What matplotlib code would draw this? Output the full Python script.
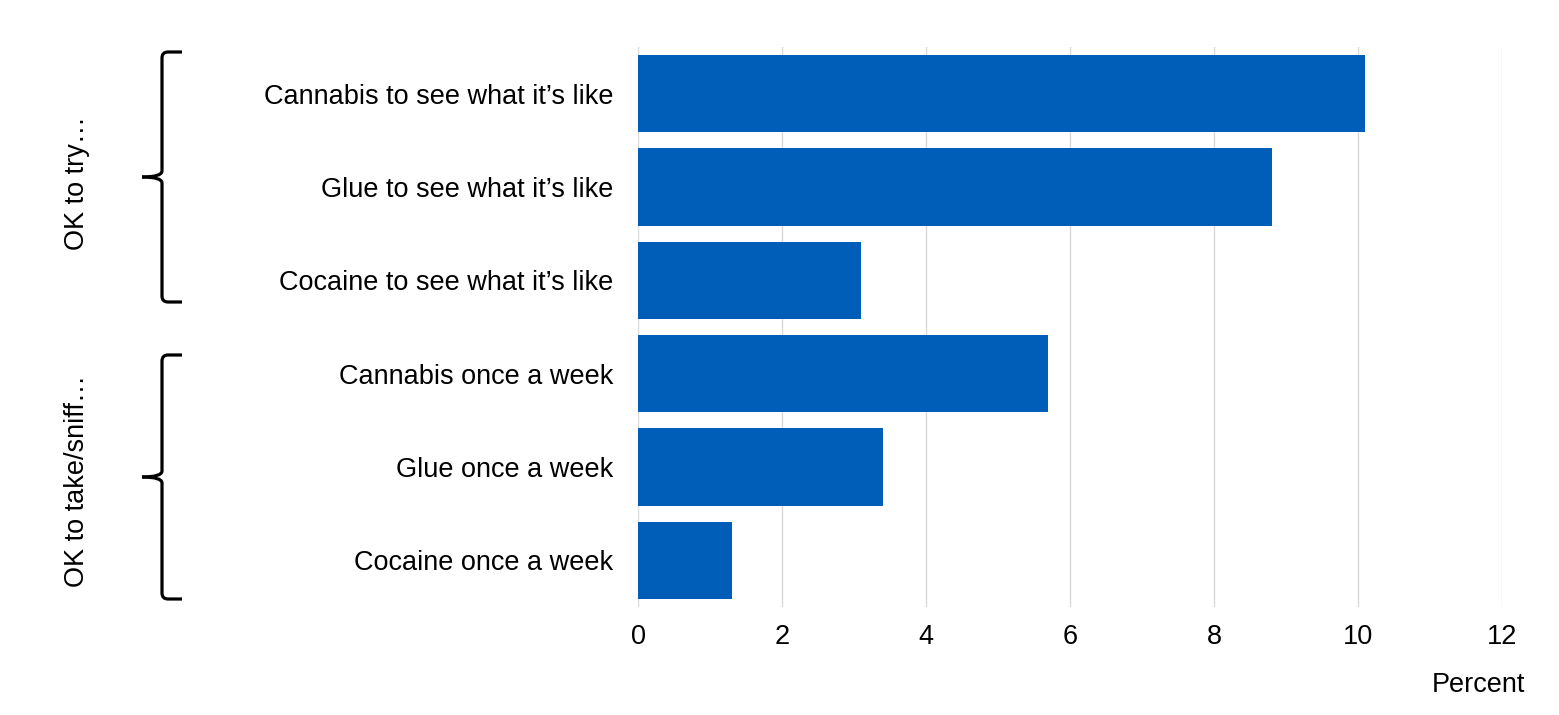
import matplotlib
matplotlib.use("Agg")
import matplotlib.pyplot as plt
from matplotlib.path import Path
from matplotlib.patches import PathPatch

plt.rcParams['font.family'] = ['Liberation Sans', 'DejaVu Sans']

categories = [
    "Cannabis to see what it\u2019s like",
    "Glue to see what it\u2019s like",
    "Cocaine to see what it\u2019s like",
    "Cannabis once a week",
    "Glue once a week",
    "Cocaine once a week",
]
values = [10.1, 8.8, 3.1, 5.7, 3.4, 1.3]
group_labels = ["OK to try\u2026", "OK to take/sniff\u2026"]
xticks = [0, 2, 4, 6, 8, 10, 12]
xlabel = "Percent"

FS = 19.5
W, H = 1559, 715
fig = plt.figure(figsize=(W / 100, H / 100), dpi=100)
ax = fig.add_axes([638 / W, 1 - 607 / H, (1502 - 638) / W, (607 - 47) / H])

y = list(range(len(categories)))
ax.barh(y, values, height=0.83, color="#005EB8", zorder=3)
ax.set_ylim(len(categories) - 0.5, -0.5)
ax.set_xlim(0, 12)
ax.set_xticks(xticks)
ax.set_xticklabels([str(t) for t in xticks])
ax.set_yticks(y)
ax.set_yticklabels(categories)
ax.tick_params(axis='both', length=0, labelsize=FS, colors='black')
ax.tick_params(axis='y', pad=18)
ax.tick_params(axis='x', pad=12)
ax.xaxis.grid(True, color="#d9d9d9", linewidth=1, zorder=0)
ax.set_axisbelow(True)
for s in ax.spines.values():
    s.set_visible(False)

fig.text(1525 / W, 1 - 692 / H, xlabel, ha='right', va='baseline', fontsize=FS)

# overlay for braces and group labels (pixel coordinates)
ov = fig.add_axes([0, 0, 1, 1])
ov.set_xlim(0, W)
ov.set_ylim(H, 0)
ov.axis('off')
ov.patch.set_alpha(0)


def brace(y0, y1, ymid, x_line=162, x_end=182, x_tip=142, r=6):
    verts = [
        (x_end, y0), (x_line + r, y0), (x_line, y0), (x_line, y0 + r),
        (x_line, ymid - r), (x_line, ymid), (x_tip, ymid),
    ]
    codes = [Path.MOVETO, Path.LINETO, Path.CURVE3, Path.CURVE3,
             Path.LINETO, Path.CURVE3, Path.CURVE3]
    verts2 = [
        (x_tip, ymid), (x_line, ymid), (x_line, ymid + r),
        (x_line, y1 - r), (x_line, y1), (x_line + r, y1), (x_end, y1),
    ]
    codes2 = [Path.MOVETO, Path.CURVE3, Path.CURVE3,
              Path.LINETO, Path.CURVE3, Path.CURVE3, Path.LINETO]
    for v, c in ((verts, codes), (verts2, codes2)):
        ov.add_patch(PathPatch(Path(v, c), fill=False, lw=2.3, edgecolor='black',
                               capstyle='butt', joinstyle='round'))


brace(52, 302, 177)
brace(355, 599, 477)

ov.text(77, 183, group_labels[0], rotation=90, ha='center', va='center', fontsize=FS)
ov.text(77, 481, group_labels[1], rotation=90, ha='center', va='center', fontsize=FS)

fig.savefig("out.png", dpi=100, facecolor='white')
